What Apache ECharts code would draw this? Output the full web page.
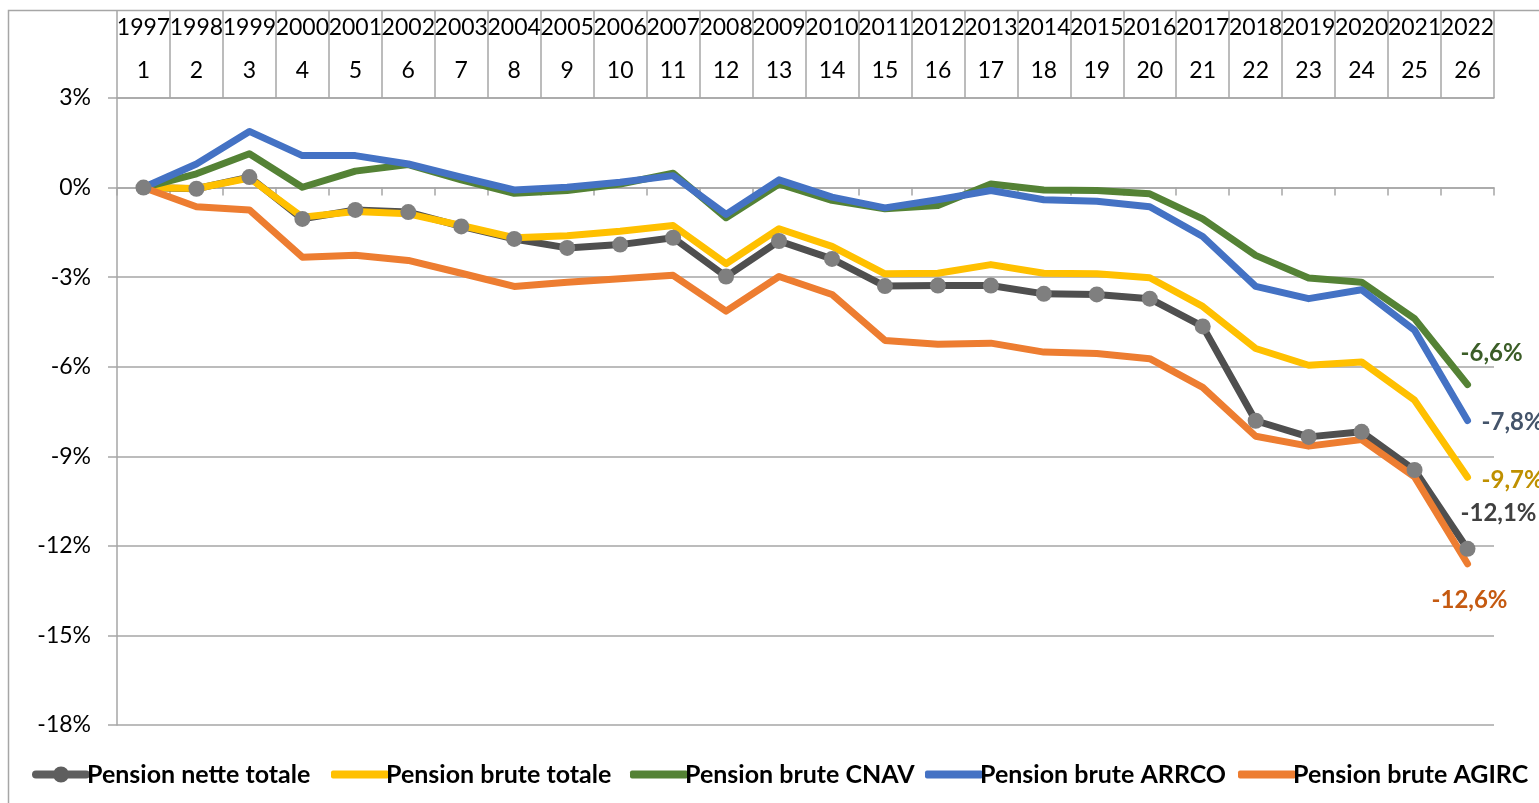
<!DOCTYPE html>
<html>
<head>
<meta charset="utf-8">
<title>Pensions 1997-2022</title>
<script src="https://cdn.jsdelivr.net/npm/echarts@6/dist/echarts.min.js"></script>
<style>
  html, body { margin: 0; padding: 0; background: #fff; }
  #chart { width: 1539px; height: 803px; }
</style>
</head>
<body>
<div id="chart"></div>
<script>
'use strict';

// categories (two rows of the top table)
var years = ['1997', '1998', '1999', '2000', '2001', '2002', '2003', '2004', '2005', '2006', '2007', '2008', '2009',
    '2010', '2011', '2012', '2013', '2014', '2015', '2016', '2017', '2018', '2019', '2020', '2021', '2022'];
var ranks = ['1', '2', '3', '4', '5', '6', '7', '8', '9', '10', '11', '12', '13',
    '14', '15', '16', '17', '18', '19', '20', '21', '22', '23', '24', '25', '26'];

// y axis ticks (%)
var yMin = -18;
var yMax = 3;
var yStep = 3;

// series values, cumulated change in % since 1997
var netteTotale = [0, -0.04, 0.35, -1.05, -0.75, -0.82, -1.30, -1.72, -2.02, -1.91, -1.68, -2.98, -1.79,
    -2.39, -3.30, -3.28, -3.28, -3.56, -3.58, -3.72, -4.65, -7.81, -8.35, -8.18, -9.46, -12.1];
var bruteTotale = [0, -0.03, 0.32, -0.99, -0.80, -0.88, -1.27, -1.68, -1.61, -1.46, -1.27, -2.55, -1.38,
    -1.97, -2.89, -2.87, -2.58, -2.87, -2.89, -3.02, -3.98, -5.39, -5.95, -5.84, -7.12, -9.7];
var bruteCnav = [0, 0.46, 1.13, 0.01, 0.55, 0.77, 0.26, -0.19, -0.10, 0.12, 0.48, -1.01, 0.12,
    -0.43, -0.71, -0.60, 0.12, -0.08, -0.10, -0.21, -1.05, -2.27, -3.03, -3.17, -4.39, -6.6];
var bruteArrco = [0, 0.79, 1.88, 1.07, 1.07, 0.79, 0.35, -0.08, 0.01, 0.18, 0.40, -0.90, 0.26,
    -0.32, -0.68, -0.41, -0.10, -0.41, -0.46, -0.64, -1.64, -3.31, -3.72, -3.42, -4.78, -7.8];
var bruteAgirc = [0, -0.64, -0.75, -2.33, -2.27, -2.44, -2.87, -3.31, -3.17, -3.05, -2.94, -4.14, -2.98,
    -3.58, -5.12, -5.25, -5.21, -5.51, -5.56, -5.73, -6.69, -8.33, -8.66, -8.44, -9.69, -12.6];

var FONT = 'Lato, "Open Sans", sans-serif';
var GRID_GREY = '#a6a6a6';

// legend icon of the marked series: thick rounded line with a dot in the middle
var LINE_DOT_ICON = 'path://M4,4 L54,4 A4,4 0 0 1 54,12 L4,12 A4,4 0 0 1 4,4 Z ' +
    'M21,8 A8,8 0 1 1 37,8 A8,8 0 1 1 21,8 Z';

function pct(v) {
    return v.toFixed(1).replace('.', ',') + '%';
}

// one line series, with the value written after its last point
function makeLine(name, values, color, labelColor, labelOffset, withMarker) {
    return {
        name: name,
        type: 'line',
        xAxisIndex: 0,
        data: values,
        smooth: false,
        symbol: withMarker ? 'circle' : 'none',
        symbolSize: withMarker ? 16 : 0,
        showSymbol: !!withMarker,
        itemStyle: { color: withMarker ? '#7f7f7f' : color },
        lineStyle: { color: color, width: 7, cap: 'round', join: 'round' },
        emphasis: { disabled: true },
        endLabel: {
            show: true,
            formatter: function (p) { return pct(p.value); },
            color: labelColor,
            fontFamily: FONT,
            fontWeight: 'bold',
            fontSize: 24,
            offset: labelOffset
        }
    };
}

// each legend entry placed on its own, like the original
function makeLegend(name, left, withMarker) {
    var item = withMarker
        ? { name: name, icon: LINE_DOT_ICON, itemStyle: { color: '#5e5e5e' } }
        : { name: name, icon: 'roundRect' };
    return {
        data: [item],
        left: left,
        top: 757,
        itemWidth: 58,
        itemHeight: withMarker ? 16 : 8,
        itemGap: 0,
        selectedMode: false,
        textStyle: { fontFamily: FONT, fontWeight: 'bold', fontSize: 25, color: '#000', padding: [0, 0, 0, -8] }
    };
}

var chart = echarts.init(document.getElementById('chart'), null, { renderer: 'canvas' });

var option = {
    backgroundColor: '#fff',
    animation: false,
    graphic: [{
        type: 'rect',
        shape: { x: 8.5, y: 10.5, width: 1600, height: 900 },
        style: { fill: 'none', stroke: GRID_GREY, lineWidth: 1.5 },
        silent: true
    }],
    grid: { left: 117, right: 45, top: 98, bottom: 78 },
    legend: [
        makeLegend('Pension nette totale', 27, true),
        makeLegend('Pension brute totale', 326, false),
        makeLegend('Pension brute CNAV', 625, false),
        makeLegend('Pension brute ARRCO', 920, false),
        makeLegend('Pension brute AGIRC', 1233, false)
    ],
    xAxis: [
        {
            // axis crossing at 0 %
            type: 'category',
            data: years,
            position: 'bottom',
            boundaryGap: true,
            axisLine: { onZero: true, lineStyle: { color: GRID_GREY, width: 1.5 } },
            axisTick: { show: true, length: 8, lineStyle: { color: GRID_GREY, width: 1.5 } },
            axisLabel: { show: false },
            splitLine: { show: false }
        },
        {
            // numbers row of the table, ticks make the table columns
            type: 'category',
            data: ranks,
            position: 'top',
            boundaryGap: true,
            axisLine: { show: true, onZero: false, lineStyle: { color: GRID_GREY, width: 1.5 } },
            axisTick: { show: true, length: 88, lineStyle: { color: GRID_GREY, width: 1.5 } },
            axisLabel: { show: true, interval: 0, margin: 16, fontFamily: FONT, fontSize: 23, color: '#000' },
            splitLine: { show: false }
        },
        {
            // years row of the table
            type: 'category',
            data: years,
            position: 'top',
            boundaryGap: true,
            axisLine: { show: false, onZero: false },
            axisTick: { show: false },
            axisLabel: { show: true, interval: 0, hideOverlap: false, margin: 59, fontFamily: FONT, fontSize: 23, color: '#000' },
            splitLine: { show: false }
        }
    ],
    yAxis: {
        type: 'value',
        min: yMin,
        max: yMax,
        interval: yStep,
        axisLine: { show: true, lineStyle: { color: GRID_GREY, width: 1.5 } },
        axisTick: { show: true, length: 9, lineStyle: { color: GRID_GREY, width: 1.5 } },
        axisLabel: {
            margin: 26,
            fontFamily: FONT,
            fontSize: 23,
            color: '#000',
            formatter: function (v) { return v + '%'; }
        },
        splitLine: { show: true, lineStyle: { color: GRID_GREY, width: 1.5 } }
    },
    series: [
        makeLine('Pension nette totale', netteTotale, '#4f4f4f', '#404040', [-15, -36], true),
        makeLine('Pension brute totale', bruteTotale, '#ffc000', '#bf9000', [6, 3], false),
        makeLine('Pension brute CNAV', bruteCnav, '#548235', '#3b5d27', [-15, -31], false),
        makeLine('Pension brute ARRCO', bruteArrco, '#4472c4', '#44546a', [6, 2], false),
        makeLine('Pension brute AGIRC', bruteAgirc, '#ed7d31', '#c55a11', [-44, 36], false)
    ]
};

chart.setOption(option);
</script>
</body>
</html>
